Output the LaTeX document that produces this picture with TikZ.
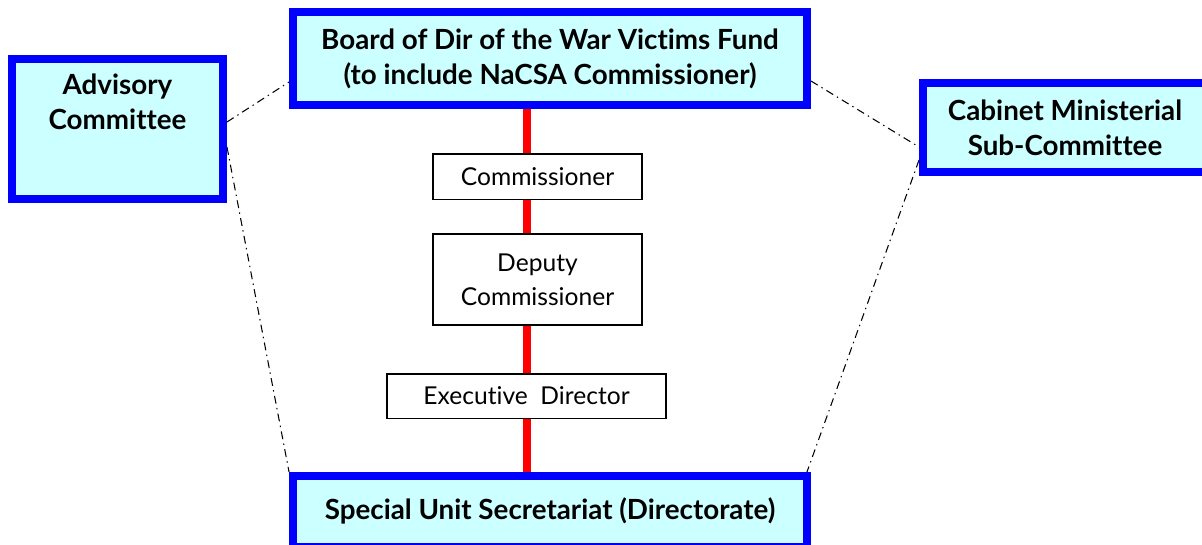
\documentclass[tikz,border=0pt]{standalone}
\usepackage{fontspec}
\setmainfont{Lato}[Ligatures=NoCommon]
\usepackage{tikz}
\usetikzlibrary{positioning}
\usetikzlibrary{backgrounds}

\definecolor{boxblue}{RGB}{0,0,255}
\definecolor{boxfill}{RGB}{204,255,255}

\tikzset{
  bigbox/.style={draw=boxblue, line width=0.15cm, fill=boxfill, align=center,
    font=\bfseries\fontsize{15.8}{20}\selectfont},
  bigtext/.style={align=center, font=\bfseries\fontsize{15.8}{20}\selectfont},
  officebox/.style={draw=black, line width=0.85pt, fill=white, align=center,
    font=\fontsize{14}{19.5}\selectfont},
  redline/.style={draw=red, line width=0.16cm},
  linkline/.style={line width=0.6pt, dash pattern=on 4.5pt off 2.5pt on 0.8pt off 2.5pt}
}

\begin{document}
\begin{tikzpicture}[x=0.02cm, y=-0.02cm]
\clip (0,0) rectangle (1202,544);

% top and bottom of the chain
\node[bigbox, minimum width=10.29cm, minimum height=1.87cm] (board) at (550,58.5)
  {Board of Dir of the War Victims Fund\\(to include NaCSA Commissioner)};
\node[bigbox, minimum width=10.29cm, minimum height=1.41cm] (secr) at (550,511)
  {Special Unit Secretariat (Directorate)};

% side committees
\node[bigbox, minimum width=4.23cm, minimum height=2.81cm] (adv) at (117.5,129) {};
\node[bigtext, below=0.26cm of adv.north] (advtxt) {Advisory\\Committee};
\node[bigbox, minimum width=5.69cm, minimum height=1.79cm] (cab) at (1065,127.5)
  {Cabinet Ministerial\\Sub-Committee};

% offices
\node[officebox, minimum width=4.19cm, minimum height=0.91cm] (comm) at (537.5,176.5) {Commissioner};
\node[officebox, minimum width=4.19cm, minimum height=1.83cm] (dep) at (537.5,279.5) {Deputy\\Commissioner};
\node[officebox, minimum width=5.59cm, minimum height=0.89cm] (exec) at (526.5,396) {Executive~ Director};

\begin{scope}[on background layer]
% line of command
\draw[redline] (board.south -| exec.center) -- (exec.center |- secr.north);
% advisory links
\draw[linkline] ([yshift=0.14cm]adv.east) -- ([yshift=-0.47cm]board.west);
\draw[linkline] ([yshift=-0.36cm]adv.east) -- (secr.north west);
\draw[linkline] ([yshift=-0.45cm]board.east) -- ([yshift=-0.39cm]cab.west);
\draw[linkline] ([yshift=-0.65cm]cab.west) -- ([xshift=-0.08cm]secr.north east);
\end{scope}
\end{tikzpicture}
\end{document}
